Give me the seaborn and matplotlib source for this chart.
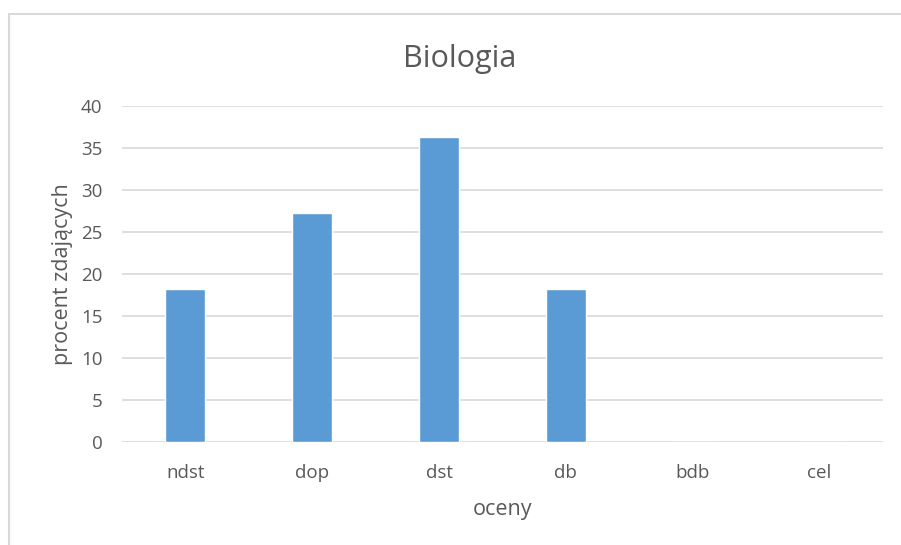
import matplotlib
matplotlib.use("Agg")
import matplotlib.pyplot as plt
import seaborn as sns
import pandas as pd
from matplotlib.patches import Rectangle

# dane
oceny = ["ndst", "dop", "dst", "db", "bdb", "cel"]
procent = [18.18, 27.27, 36.36, 18.18, 0, 0]

df = pd.DataFrame({"oceny": oceny, "procent": procent})

sns.set_theme(style="white")
plt.rcParams["font.family"] = ["Open Sans", "DejaVu Sans"]

W, H = 901, 545
fig = plt.figure(figsize=(W / 100, H / 100), dpi=100)
ax = fig.add_axes([122 / W, 1 - 442 / H, (883 - 122) / W, (442 - 106) / H])

# ramka wykresu
fig.patches.append(Rectangle((9 / W, -0.05), 1.1, 1.05 - 14 / H,
                             transform=fig.transFigure, fill=False,
                             edgecolor="#D9D9D9", linewidth=1.5, zorder=0))

sns.barplot(data=df, x="oceny", y="procent", color="#5B9BD5",
            saturation=1, width=0.315, ax=ax, zorder=3)

ax.set_ylim(0, 40)
ax.set_yticks(range(0, 41, 5))
ax.yaxis.grid(True, color="#D9D9D9", linewidth=1.2, zorder=0)
ax.set_axisbelow(True)
for s in ax.spines.values():
    s.set_visible(False)

ax.tick_params(axis="both", length=0, labelsize=13.5, colors="#595959")
ax.tick_params(axis="y", pad=14)
ax.tick_params(axis="x", pad=16)

ax.set_xlabel("oceny", fontsize=15.5, color="#595959", labelpad=12)
ax.set_ylabel("procent zdających", fontsize=15.5, color="#595959", labelpad=6)
fig.text(460 / W, 1 - 59 / H, "Biologia", ha="center", va="center",
         fontsize=22, color="#595959")

fig.savefig("out.png", dpi=100)
